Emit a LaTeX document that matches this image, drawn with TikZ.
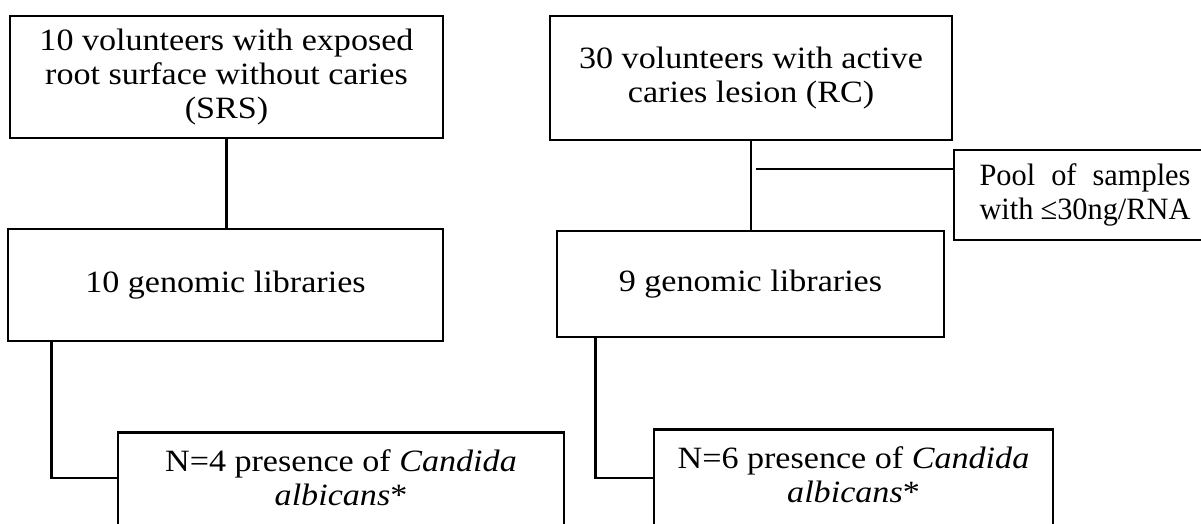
\documentclass[tikz,border=0pt]{standalone}
\usepackage{graphicx}
\usepackage{fontspec}
\setmainfont{Liberation Serif}[FakeStretch=1.1]

\tikzset{
    box/.style={draw, line width=2.8pt, align=center, inner sep=0pt, font=\fontsize{31}{34}\selectfont},
    topbox/.style={box, anchor=north, inner ysep=17pt},
    link/.style={line width=2.8pt},
    thinlink/.style={line width=1.3pt}
}

\begin{document}
\begin{tikzpicture}[x=1pt, y=-1pt]
    \clip (0,0) rectangle (1201,523);

    \node[box, minimum width=433pt, minimum height=122pt] (srs) at (226.5,77) {10 volunteers with exposed\\root surface without caries\\(SRS)};
    \node[box, minimum width=402pt, minimum height=124pt] (rc) at (751,78) {30 volunteers with active\\caries lesion (RC)};

    \node[box, minimum width=435pt, minimum height=112pt] (libsrs) at (225.5,285) {10 genomic libraries};
    \node[box, minimum width=387pt, minimum height=106pt] (librc) at (750.5,284) {9 genomic libraries};

    \node[box, minimum width=262pt, minimum height=90pt, anchor=west] (pool) at (952.6,195)
        {\scalebox{0.89}[1]{\parbox{237pt}{\makebox[\linewidth][s]{Pool of samples}\\with ≤30ng/RNA}}};

    \node[topbox, minimum width=446pt] (candsrs) at (341,431) {N=4 presence of \textit{Candida}\\\textit{albicans}*\\ \strut};
    \node[topbox, minimum width=399pt] (candrc) at (853.5,428) {N=6 presence of \textit{Candida}\\\textit{albicans}*\\ \strut};

    \draw[link] (srs.south) -- (srs.south |- libsrs.north);
    \draw[link] (rc.south) -- (rc.south |- librc.north);

    \coordinate (poolend) at (756,169);
    \draw[thinlink] (poolend) -- (poolend -| pool.west);

    \draw[link] ([xshift=45pt]libsrs.south west) |- ([yshift=-47pt]candsrs.north west);
    \draw[link] ([xshift=40pt]librc.south west) |- ([yshift=-50pt]candrc.north west);
\end{tikzpicture}
\end{document}
